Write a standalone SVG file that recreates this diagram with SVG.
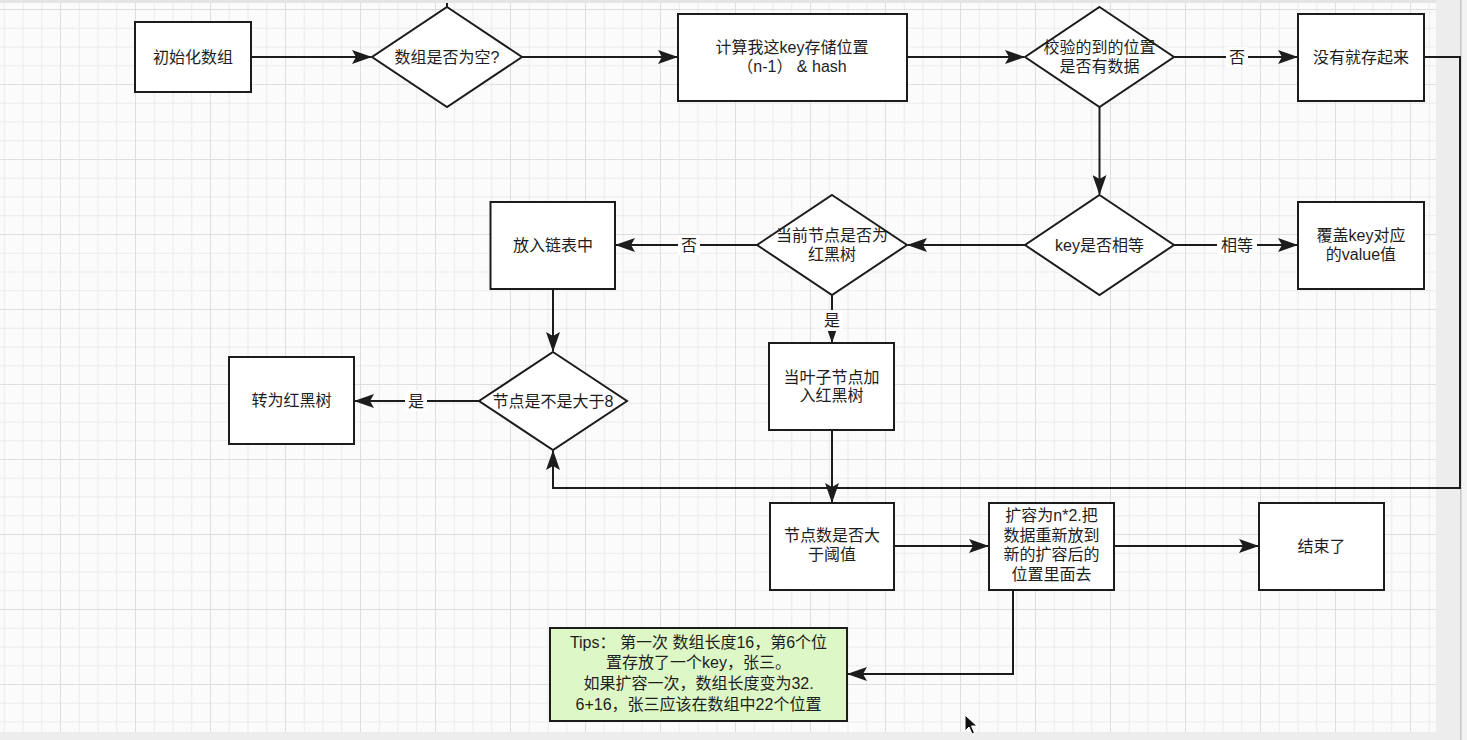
<svg xmlns="http://www.w3.org/2000/svg" width="1467" height="740" viewBox="0 0 1467 740">
<style>
.n{fill:#ffffff;stroke:#1c1c1c;stroke-width:2}
.t{font-family:"Liberation Sans","Noto Sans CJK SC",sans-serif;font-size:16px;fill:#1e1e1e;text-anchor:middle}
.e{fill:none;stroke:#1c1c1c;stroke-width:2}
.lb{fill:#ffffff}
</style>
<defs>
<pattern id="grid" patternUnits="userSpaceOnUse" x="60" y="9" width="75" height="75">
<rect x="0" y="0" width="75" height="75" fill="#fbfbfb"/>
<rect x="18.75" y="0" width="1" height="75" fill="#ececec"/>
<rect x="37.5" y="0" width="1" height="75" fill="#ececec"/>
<rect x="56.25" y="0" width="1" height="75" fill="#ececec"/>
<rect x="0" y="18.75" width="75" height="1" fill="#ececec"/>
<rect x="0" y="37.5" width="75" height="1" fill="#ececec"/>
<rect x="0" y="56.25" width="75" height="1" fill="#ececec"/>
<rect x="0" y="0" width="1" height="75" fill="#dedede"/>
<rect x="0" y="0" width="75" height="1" fill="#dedede"/>
</pattern>
<marker id="arr" viewBox="0 0 20 14" refX="19" refY="7" markerWidth="10" markerHeight="7" orient="auto" markerUnits="strokeWidth">
<path d="M0,0 L20,7 L0,14 L4,7 Z" fill="#1c1c1c"/>
</marker>
</defs>
<rect x="0" y="0" width="1467" height="740" fill="#ededed"/>
<rect x="0" y="3" width="1436" height="729" fill="url(#grid)"/>
<rect x="0" y="0" width="1436" height="3" fill="#e4e4e4"/>
<rect x="1460" y="0" width="1.5" height="740" fill="#c8c8c8"/>
<rect x="1462" y="0" width="5" height="740" fill="#f3f3f3"/>

<g id="connectors">
<line class="e" x1="447" y1="3" x2="447" y2="7"/>
<line class="e" x1="251" y1="57" x2="371" y2="57" marker-end="url(#arr)"/>
<line class="e" x1="522" y1="57" x2="677" y2="57" marker-end="url(#arr)"/>
<line class="e" x1="907" y1="57" x2="1024" y2="57" marker-end="url(#arr)"/>
<line class="e" x1="1174" y1="57" x2="1297" y2="57" marker-end="url(#arr)"/>
<polyline class="e" points="1424,57 1460,57 1460,488 553,488 553,451" marker-end="url(#arr)"/>
<line class="e" x1="1099.5" y1="107" x2="1099.5" y2="194" marker-end="url(#arr)"/>
<line class="e" x1="1174" y1="245" x2="1297" y2="245" marker-end="url(#arr)"/>
<line class="e" x1="1025" y1="245" x2="908" y2="245" marker-end="url(#arr)"/>
<line class="e" x1="757" y1="245" x2="616" y2="245" marker-end="url(#arr)"/>
<line class="e" x1="553" y1="289" x2="553" y2="351" marker-end="url(#arr)"/>
<line class="e" x1="479" y1="401" x2="355" y2="401" marker-end="url(#arr)"/>
<line class="e" x1="832" y1="295" x2="832" y2="342" marker-end="url(#arr)"/>
<line class="e" x1="832" y1="430" x2="832" y2="502" marker-end="url(#arr)"/>
<line class="e" x1="894" y1="546" x2="988" y2="546" marker-end="url(#arr)"/>
<line class="e" x1="1114" y1="546" x2="1258" y2="546" marker-end="url(#arr)"/>
<polyline class="e" points="1013,590 1013,674 848,674" marker-end="url(#arr)"/>
<rect class="lb" x="1226" y="47" width="22" height="20"/>
<text class="t" x="1237" y="62.5">否</text>
<rect class="lb" x="1217" y="235" width="40" height="20"/>
<text class="t" x="1237" y="250.5">相等</text>
<rect class="lb" x="678" y="235" width="22" height="20"/>
<text class="t" x="689" y="250.5">否</text>
<rect class="lb" x="405" y="391" width="22" height="20"/>
<text class="t" x="416" y="406.5">是</text>
<rect class="lb" x="822" y="310" width="20" height="21"/>
<text class="t" x="832" y="326">是</text>
</g>

<g id="n1"><rect class="n" x="135" y="22" width="116" height="70"/><text class="t" x="193" y="62.5">初始化数组</text></g>
<g id="n2"><polygon class="n" points="447,7 522,57 447,107 372,57"/><text class="t" x="447" y="62.5">数组是否为空?</text></g>
<g id="n3"><rect class="n" x="678" y="14" width="229" height="87"/><text class="t" x="792" y="53">计算我这key存储位置</text><text class="t" x="792" y="72">（n-1） &amp; hash</text></g>
<g id="n4"><polygon class="n" points="1099.5,7 1174,57 1099.5,107 1025,57"/><text class="t" x="1099.5" y="53">校验的到的位置</text><text class="t" x="1099.5" y="72">是否有数据</text></g>
<g id="n5"><rect class="n" x="1298" y="14" width="126" height="87"/><text class="t" x="1361" y="62.5">没有就存起来</text></g>
<g id="n6"><polygon class="n" points="1099.5,195 1174,245 1099.5,295 1025,245"/><text class="t" x="1099.5" y="250.5">key是否相等</text></g>
<g id="n7"><rect class="n" x="1298" y="202" width="126" height="87"/><text class="t" x="1361" y="241">覆盖key对应</text><text class="t" x="1361" y="260">的value值</text></g>
<g id="n8"><polygon class="n" points="832,195 907,245 832,295 757,245"/><text class="t" x="832" y="241">当前节点是否为</text><text class="t" x="832" y="260">红黑树</text></g>
<g id="n9"><rect class="n" x="490.5" y="202" width="124.5" height="87"/><text class="t" x="553" y="250.5">放入链表中</text></g>
<g id="n10"><polygon class="n" points="553,352 627,401 553,450 479,401"/><text class="t" x="553" y="406.5">节点是不是大于8</text></g>
<g id="n11"><rect class="n" x="229" y="357" width="125" height="87"/><text class="t" x="291.5" y="406">转为红黑树</text></g>
<g id="n12"><rect class="n" x="769" y="343" width="125" height="87"/><text class="t" x="831.5" y="383">当叶子节点加</text><text class="t" x="831.5" y="401">入红黑树</text></g>
<g id="n13"><rect class="n" x="770" y="503" width="124" height="87"/><text class="t" x="832" y="541">节点数是否大</text><text class="t" x="832" y="560">于阈值</text></g>
<g id="n14"><rect class="n" x="989" y="503" width="125" height="87"/><text class="t" x="1051.5" y="521">扩容为n*2.把</text><text class="t" x="1051.5" y="540.5">数据重新放到</text><text class="t" x="1051.5" y="560">新的扩容后的</text><text class="t" x="1051.5" y="579.5">位置里面去</text></g>
<g id="n15"><rect class="n" x="1259" y="503" width="125" height="87"/><text class="t" x="1321.5" y="552">结束了</text></g>
<g id="n16"><rect x="550" y="628" width="297" height="93" fill="#ddf8c6" stroke="#1c1c1c" stroke-width="2"/>
<text class="t" x="698.5" y="648">Tips：  第一次 数组长度16，第6个位</text>
<text class="t" x="698.5" y="668">置存放了一个key，张三。</text>
<text class="t" x="698.5" y="689">如果扩容一次，数组长度变为32.</text>
<text class="t" x="698.5" y="710">6+16，张三应该在数组中22个位置</text></g>
<path d="M965,715 L965,731 L969,727 L972,734 L974.5,733 L971.5,726 L977,726 Z" fill="#111111" stroke="#ffffff" stroke-width="1"/>
</svg>
